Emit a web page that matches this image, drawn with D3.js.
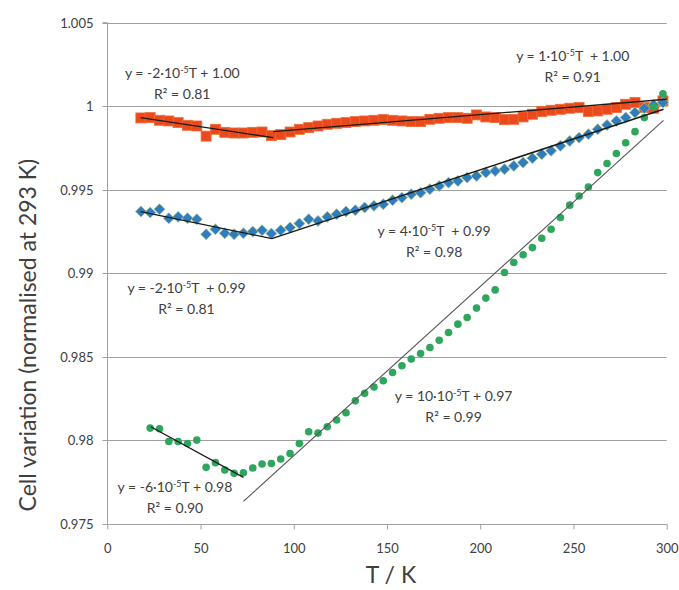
<!DOCTYPE html>
<html>
<head>
<meta charset="utf-8">
<script src="https://cdn.jsdelivr.net/npm/d3@7/dist/d3.min.js"></script>
<style>
  html, body { margin: 0; padding: 0; background: #fff; }
  svg { display: block; }
  text { font-family: Lato, "Open Sans", sans-serif; fill: #404040; white-space: pre; }
</style>
</head>
<body>
<svg id="chart" width="679" height="590"></svg>
<script>
// ---------------- DATA ----------------
const xTicks = [0, 50, 100, 150, 200, 250, 300];
const xTickLabels = ["0", "50", "100", "150", "200", "250", "300"];
const yTicks = [0.975, 0.98, 0.985, 0.99, 0.995, 1, 1.005];
const yTickLabels = ["0.975", "0.98", "0.985", "0.99", "0.995", "1", "1.005"];

const xTitle = "T / K";
const yTitle = "Cell variation (normalised at 293 K)";

// temperatures (K)
const tempSquares = [18,23,28,33,38,43,48,53,58,63,68,73,78,83,88,93,98,103,108,113,118,123,128,133,138,143,148,
  153,158,163,168,173,178,183,188,193,198,203,208,213,218,223,228,233,238,243,248,253,258,263,268,273,278,283,288,293,298];
const tempDiamonds = tempSquares;
const tempCircles = tempSquares.slice(1);

// orange squares
const valSquares = [0.99930,0.99932,0.99916,0.99912,0.99902,0.99886,0.99882,0.99821,0.99862,0.99844,0.99840,0.99840,0.99844,0.99846,0.99824,0.99830,0.99846,0.99862,
  0.99872,0.99882,0.99892,0.99898,0.99902,0.99908,0.99912,0.99916,0.99920,
  0.99916,0.99912,0.99908,0.99908,0.99922,0.99928,0.99932,0.99932,0.99928,0.99948,0.99936,0.99932,0.99920,0.99922,0.99936,0.99952,0.99968,0.99976,0.99982,0.99988,0.99992,0.99968,0.99972,0.99982,0.99992,1.00012,1.00022,0.99992,0.99988,1.00032];

// blue diamonds
const valDiamonds = [0.99370,0.99364,0.99384,0.99330,0.99338,0.99330,0.99324,0.99234,0.99264,0.99240,0.99234,0.99240,0.99250,0.99258,0.99238,0.99258,0.99274,0.99298,
  0.99324,0.99314,0.99338,0.99354,0.99370,0.99378,0.99394,0.99404,0.99414,
  0.99438,0.99453,0.99474,0.99483,0.99504,0.99523,0.99543,0.99553,0.99573,0.99583,0.99603,0.99613,0.99623,0.99643,0.99663,0.99689,0.99713,0.99733,0.99763,0.99792,0.99812,0.99833,0.99862,0.99888,0.99912,0.99932,0.99962,0.99988,1.00008,1.00022];

// green circles
const valCircles = [0.98074,0.98070,0.97994,0.97994,0.97982,0.98002,0.97839,0.97867,0.97823,0.97803,0.97807,0.97835,0.97859,0.97862,0.97889,0.97922,0.97982,0.98052,0.98044,0.98082,0.98122,0.98166,0.98237,
  0.98282,0.98320,
  0.98357,0.98407,0.98447,0.98487,0.98520,0.98556,0.98600,0.98646,0.98696,0.98736,0.98792,0.98852,0.98901,0.99005,0.99065,0.99111,0.99154,0.99210,0.99264,0.99334,0.99408,0.99463,0.99517,0.99603,0.99657,0.99717,0.99782,0.99848,0.99932,0.99996,
  1.00075];

// trendline end points [T0, v0, T1, v1]
const trendSquaresLow  = [17.9, 0.99932, 89.0, 0.99812];
const trendSquaresHigh = [89.0, 0.99848, 300.0, 1.00042];
const trendDiamondsLow  = [17.9, 0.99370, 88.2, 0.99208];
const trendDiamondsHigh = [88.2, 0.99208, 298.3, 0.99982];
const trendCirclesLow  = [23.3, 0.98082, 73.0, 0.97779];
const trendCirclesHigh = [73.0, 0.97635, 298.3, 0.99916];

// equation labels
const eqTexts = [
  ["y = -2\u00B710", "-5", "T + 1.00", "R\u00B2 = 0.81"],
  ["y = 1\u00B710", "-5", "T  + 1.00", "R\u00B2 = 0.91"],
  ["y = 4\u00B710", "-5", "T  + 0.99", "R\u00B2 = 0.98"],
  ["y = -2\u00B710", "-5", "T  + 0.99", "R\u00B2 = 0.81"],
  ["y = 10\u00B710", "-5", "T + 0.97", "R\u00B2 = 0.99"],
  ["y = -6\u00B710", "-5", "T + 0.98", "R\u00B2 = 0.90"]
];
// ---------------- LAYOUT ----------------
const eqAnchors = [ // [T, value] of equation line centre
  [40.2, 1.00199], [249.6, 1.00301], [175.3, 0.99254],
  [42.5, 0.98914], [185.7, 0.98267], [36.3, 0.97723]
];

const svg = d3.select("#chart");
const x = d3.scaleLinear().domain([0, 300]).range([107.3, 666.7]);
const y = d3.scaleLinear().domain([0.975, 1.005]).range([524, 22.7]);

const gridColor = "#a0a0a0";

// gridlines
svg.append("g").selectAll("line").data(yTicks).join("line")
  .attr("x1", x(0)).attr("x2", x(300))
  .attr("y1", d => Math.round(y(d)) + 0.5).attr("y2", d => Math.round(y(d)) + 0.5)
  .attr("stroke", gridColor).attr("stroke-width", 1);

// y axis
const yAxis = d3.axisLeft(y).tickValues(yTicks)
  .tickFormat((d, i) => yTickLabels[i]).tickSize(5).tickPadding(9);
const gy = svg.append("g").attr("transform", `translate(${Math.round(x(0)) + 0.5},0)`).call(yAxis);
gy.select(".domain").attr("stroke", gridColor).attr("d", `M-5,${y(1.005)}H0V${y(0.975)}`);
gy.selectAll(".tick line").attr("stroke", gridColor);
gy.selectAll(".tick text").style("font-size", "13px").attr("fill", "#404040")
  .style("font-family", "Lato, sans-serif");
gy.selectAll(".tick").attr("transform", d => `translate(0,${Math.round(y(d)) + 0.5})`);

// x axis
const xAxis = d3.axisBottom(x).tickValues(xTicks)
  .tickFormat((d, i) => xTickLabels[i]).tickSize(5).tickPadding(14);
const gx = svg.append("g").attr("transform", `translate(0,${Math.round(y(0.975)) + 0.5})`).call(xAxis);
gx.select(".domain").attr("stroke", gridColor).attr("d", `M${x(0)},0H${x(300)}`);
gx.selectAll(".tick line").attr("stroke", gridColor);
gx.selectAll(".tick text").style("font-size", "13px").attr("fill", "#404040")
  .style("font-family", "Lato, sans-serif");

// axis titles
svg.append("text").attr("x", x(150) + 4).attr("y", 583)
  .attr("text-anchor", "middle").style("font-size", "23px").text(xTitle);
svg.append("text").attr("transform", `translate(36,${y(0.9875) + 20}) rotate(-90)`)
  .attr("text-anchor", "middle").style("font-size", "23px").text(yTitle);

// series: orange squares
const sq = 10;
svg.append("g").selectAll("rect").data(tempSquares.map((t, i) => [t, valSquares[i]])).join("rect")
  .attr("x", d => x(d[0]) - sq / 2).attr("y", d => y(d[1]) - sq / 2)
  .attr("width", sq).attr("height", sq)
  .attr("fill", "#EA4A1B").attr("stroke", "#F06A38").attr("stroke-width", 0.8);

// blue diamonds
const dm = 5.5;
svg.append("g").selectAll("path").data(tempDiamonds.map((t, i) => [t, valDiamonds[i]])).join("path")
  .attr("d", d => { const cx = x(d[0]), cy = y(d[1]);
    return `M${cx},${cy - dm}L${cx + dm},${cy}L${cx},${cy + dm}L${cx - dm},${cy}Z`; })
  .attr("fill", "#2E7DBF").attr("stroke", "#a9bf86").attr("stroke-width", 0.8);

// green circles
svg.append("g").selectAll("circle").data(tempCircles.map((t, i) => [t, valCircles[i]])).join("circle")
  .attr("cx", d => x(d[0])).attr("cy", d => y(d[1])).attr("r", 3.8)
  .attr("fill", "#2FA65E");

// trendlines
const trends = [
  [trendSquaresLow, "#1a1a1a", 1.3], [trendSquaresHigh, "#1a1a1a", 1.3],
  [trendDiamondsLow, "#1a1a1a", 1.3], [trendDiamondsHigh, "#1a1a1a", 1.5],
  [trendCirclesLow, "#1a1a1a", 1.3], [trendCirclesHigh, "#555555", 1.1]
];
svg.append("g").selectAll("line").data(trends).join("line")
  .attr("x1", d => x(d[0][0])).attr("y1", d => y(d[0][1]))
  .attr("x2", d => x(d[0][2])).attr("y2", d => y(d[0][3]))
  .attr("stroke", d => d[1]).attr("stroke-width", d => d[2]);

// equation labels
const eqG = svg.append("g");
eqTexts.forEach((e, i) => {
  const cx = x(eqAnchors[i][0]), cy = y(eqAnchors[i][1]);
  const t = eqG.append("text").attr("x", cx).attr("y", cy + 5)
    .attr("text-anchor", "middle").style("font-size", "14px");
  t.append("tspan").text(e[0]);
  t.append("tspan").attr("dy", -5).style("font-size", "9px").text(e[1]);
  t.append("tspan").attr("dy", 5).text(e[2]);
  eqG.append("text").attr("x", cx).attr("y", cy + 5 + 21)
    .attr("text-anchor", "middle").style("font-size", "14px").text(e[3]);
});
</script>
</body>
</html>
